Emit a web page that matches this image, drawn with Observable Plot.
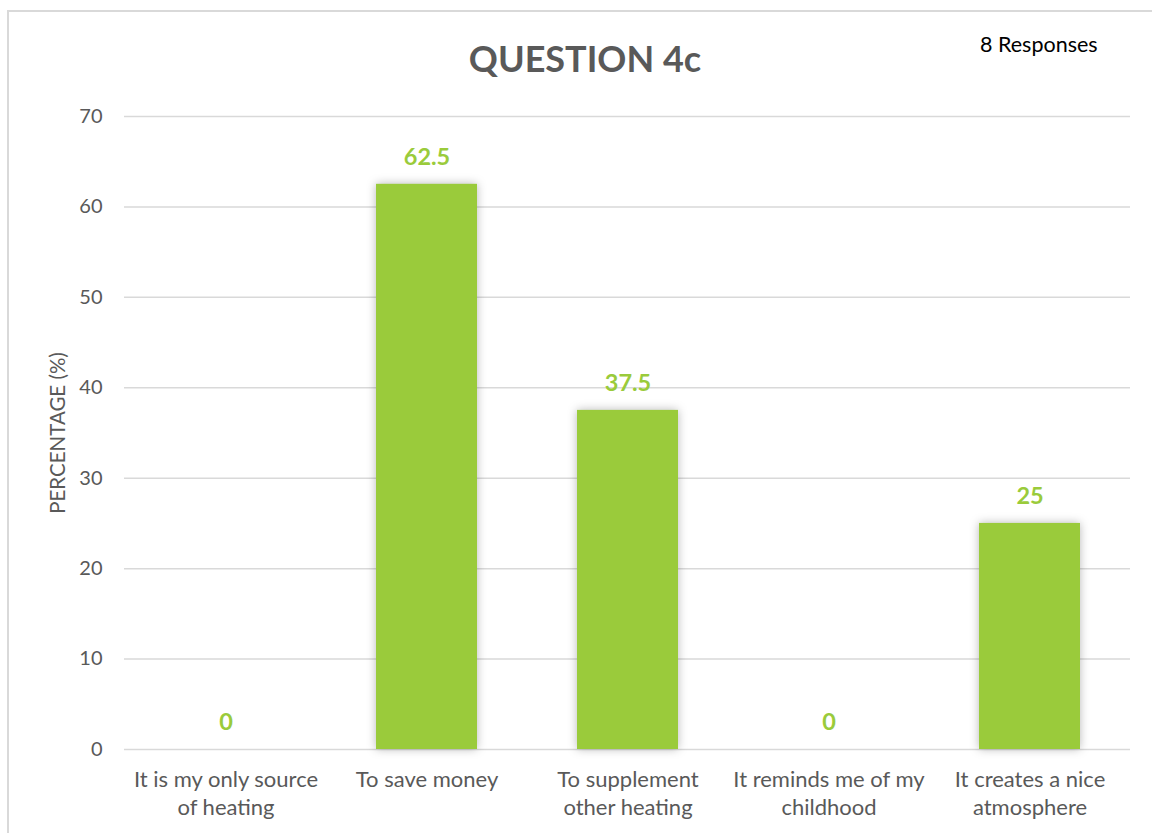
<!DOCTYPE html>
<html>
<head>
<meta charset="utf-8">
<script src="https://cdn.jsdelivr.net/npm/d3@7"></script>
<script src="https://cdn.jsdelivr.net/npm/@observablehq/plot@0.6"></script>
<style>
  html, body { margin: 0; padding: 0; background: #fff; overflow: hidden; }
  #wrap { position: relative; width: 1152px; height: 833px; font-family: Lato, "Open Sans", sans-serif; }
  #frame { position: absolute; left: 7px; top: 10px; width: 1200px; height: 900px; border-left: 2px solid #d9d9d9; border-top: 2px solid #d9d9d9; box-sizing: border-box; }
  #title { position: absolute; left: 0; width: 1170px; top: 40px; text-align: center; font-size: 36px; font-weight: bold; color: #595959; line-height: 1; }
  #resp { position: absolute; left: 980px; top: 34px; font-size: 21.5px; color: #000; line-height: 1; }
  #ylab { position: absolute; left: 57px; top: 433px; transform: translate(-50%, -50%) rotate(-90deg); font-size: 20.5px; color: #595959; white-space: nowrap; line-height: 1; }
  #chart { position: absolute; left: 0; top: 0; }
</style>
</head>
<body>
<div id="wrap">
  <div id="frame"></div>
  <div id="chart"></div>
  <div id="title">QUESTION 4c</div>
  <div id="resp">8 Responses</div>
  <div id="ylab">PERCENTAGE (%)</div>
</div>
<script>
const categories = [
  "It is my only source of heating",
  "To save money",
  "To supplement other heating",
  "It reminds me of my childhood",
  "It creates a nice atmosphere"
];
const tickLabels = [
  "It is my only source\nof heating",
  "To save money",
  "To supplement\nother heating",
  "It reminds me of my\nchildhood",
  "It creates a nice\natmosphere"
];
const percentages = [0, 62.5, 37.5, 0, 25];
const yTicks = [0, 10, 20, 30, 40, 50, 60, 70];

const data = categories.map((c, i) => ({category: c, value: percentages[i], label: tickLabels[i]}));
const green = "#9acb3b";
const gray = "#595959";

const plot = Plot.plot({
  width: 1152,
  height: 833,
  marginTop: 116,
  marginBottom: 84,
  marginLeft: 124,
  marginRight: 22,
  style: {fontFamily: "Lato, 'Open Sans', sans-serif", background: "transparent", overflow: "visible"},
  x: {domain: categories, paddingInner: 0.5, paddingOuter: 0.25, axis: null},
  y: {domain: [0, 70], ticks: yTicks, axis: null},
  marks: [
    Plot.gridY(yTicks, {stroke: "#d9d9d9", strokeOpacity: 1, strokeWidth: 1.5}),
    Plot.axisY(yTicks, {tickSize: 0, tickPadding: 22, fontSize: 20, color: gray, label: null}),
    Plot.barY(data, {x: "category", y: "value", fill: green, className: "bars"}),
    Plot.text(data, {x: "category", y: "value", text: d => String(d.value), dy: -27, fill: green, fontSize: 23.5, fontWeight: "bold"}),
    Plot.text(data, {x: "category", text: "label", frameAnchor: "bottom", lineAnchor: "top", dy: 18, lineHeight: 1.27, fontSize: 22, fill: gray})
  ]
});
document.getElementById("chart").appendChild(plot);
d3.select(plot).selectAll(".bars rect").style("filter", "drop-shadow(0px 0px 5px rgba(0,0,0,0.28))");
</script>
</body>
</html>
